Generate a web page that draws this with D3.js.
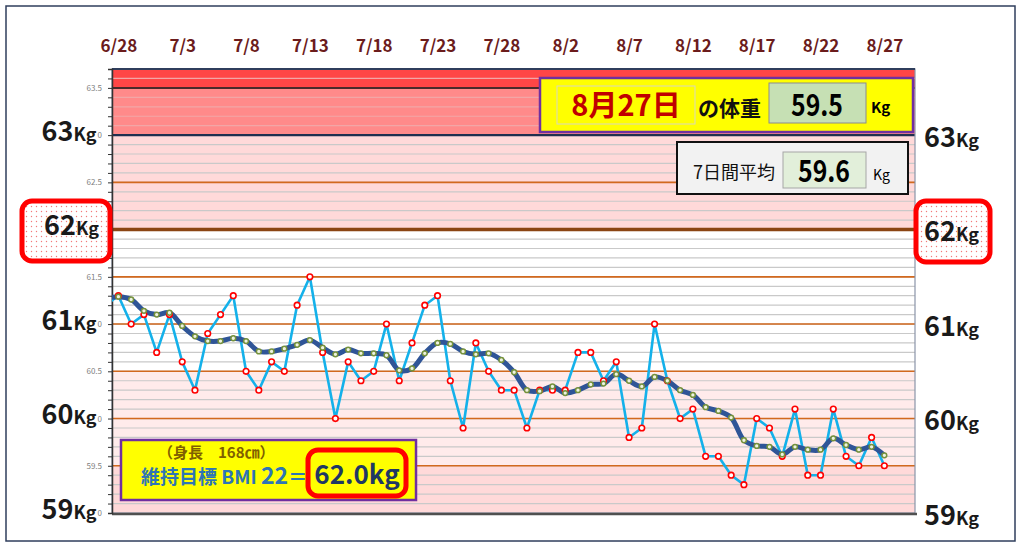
<!DOCTYPE html>
<html>
<head>
<meta charset="utf-8">
<script src="https://cdn.jsdelivr.net/npm/d3@7"></script>
<style>
    body { margin: 0; background: #ffffff; }
    #centeredBox { width: 1024px; height: 550px; }
    text { font-family: "Noto Sans CJK JP", "Noto Sans", sans-serif; }
</style>
</head>
<body>
<div id="centeredBox"></div>
<script>
// daily weight, first day (6/27) sits just left of the plot and gets clipped
var dates = ["6/27", "6/28", "6/29", "6/30", "7/1", "7/2", "7/3", "7/4", "7/5", "7/6",
    "7/7", "7/8", "7/9", "7/10", "7/11", "7/12", "7/13", "7/14", "7/15", "7/16",
    "7/17", "7/18", "7/19", "7/20", "7/21", "7/22", "7/23", "7/24", "7/25", "7/26",
    "7/27", "7/28", "7/29", "7/30", "7/31", "8/1", "8/2", "8/3", "8/4", "8/5",
    "8/6", "8/7", "8/8", "8/9", "8/10", "8/11", "8/12", "8/13", "8/14", "8/15",
    "8/16", "8/17", "8/18", "8/19", "8/20", "8/21", "8/22", "8/23", "8/24", "8/25",
    "8/26", "8/27"];

var weights = [61.2, 61.3, 61.0, 61.1, 60.7, 61.1, 60.6, 60.3, 60.9, 61.1,
    61.3, 60.5, 60.3, 60.6, 60.5, 61.2, 61.5, 60.7, 60.0, 60.6,
    60.4, 60.5, 61.0, 60.4, 60.8, 61.2, 61.3, 60.4, 59.9, 60.8,
    60.5, 60.3, 60.3, 59.9, 60.3, 60.3, 60.3, 60.7, 60.7, 60.4,
    60.6, 59.8, 59.9, 61.0, 60.4, 60.0, 60.1, 59.6, 59.6, 59.4,
    59.3, 60.0, 59.9, 59.6, 60.1, 59.4, 59.4, 60.1, 59.6, 59.5,
    59.8, 59.5];

// 7 day average line
var averages = [61.27, 61.29, 61.26, 61.14, 61.10, 61.12, 60.98, 60.87, 60.82, 60.82,
    60.85, 60.82, 60.71, 60.71, 60.74, 60.78, 60.83, 60.75, 60.68, 60.73,
    60.69, 60.69, 60.67, 60.51, 60.53, 60.69, 60.80, 60.79, 60.71, 60.68,
    60.69, 60.62, 60.49, 60.30, 60.29, 60.34, 60.27, 60.30, 60.36, 60.37,
    60.47, 60.40, 60.34, 60.44, 60.40, 60.30, 60.25, 60.12, 60.08, 60.01,
    59.77, 59.71, 59.70, 59.62, 59.70, 59.67, 59.67, 59.79, 59.72, 59.67,
    59.70, 59.61];

var dateTicks = ["6/28", "7/3", "7/8", "7/13", "7/18", "7/23", "7/28", "8/2", "8/7", "8/12", "8/17", "8/22", "8/27"];
var kgLabels = [63, 62, 61, 60, 59];
var smallLabels = [63.5, 63.0, 62.5, 61.5, 61.0, 60.5, 60.0, 59.5, 59.0];
var majorLines = [59.5, 60, 60.5, 61, 61.5, 62.5];
var targetLine = 62;

var latestDay = "8月27日";
var latestWeight = "59.5";
var weekAverage = "59.6";
var bodyHeight = "168";
var targetBmi = "22";
var targetWeight = "62.0";

window.onload = function () {

    var width = 1024;
    var height = 550;

    var svg = d3.select("#centeredBox").append("svg")
        .attr("width", width)
        .attr("height", height);

    var defs = svg.append("defs");

    // dotted fill used in the red 62Kg boxes
    var pat = defs.append("pattern")
        .attr("id", "dots")
        .attr("width", 5)
        .attr("height", 5)
        .attr("patternUnits", "userSpaceOnUse");
    pat.append("rect").attr("width", 5).attr("height", 5).attr("fill", "#ffffff");
    pat.append("circle").attr("cx", 1.5).attr("cy", 1.5).attr("r", 0.7).attr("fill", "#f27a7a");

    var plotLeft = 112, plotRight = 915, plotTop = 69, plotBottom = 513;

    defs.append("clipPath").attr("id", "plotClip")
        .append("rect")
        .attr("x", plotLeft)
        .attr("y", plotTop)
        .attr("width", plotRight - plotLeft)
        .attr("height", plotBottom - plotTop);

    // outer frame
    svg.append("rect")
        .attr("x", 6).attr("y", 6)
        .attr("width", 1009).attr("height", 535)
        .attr("fill", "#ffffff")
        .attr("stroke", "#2f3e5c")
        .attr("stroke-width", 1.5);

    // x scale (index into dates)
    var xScale = d3.scaleLinear()
        .domain([0.5, 63.4])
        .range([plotLeft, plotRight]);

    // y scale
    var yScale = d3.scaleLinear()
        .domain([59, 63.7])
        .range([plotBottom, plotTop]);

    // background bands
    var bands = [
        { from: 63.5, to: 63.7, color: "#ff4646" },
        { from: 63.0, to: 63.5, color: "#ff8a8a" },
        { from: 62.0, to: 63.0, color: "#ffd9d9" },
        { from: 60.5, to: 62.0, color: "#ffffff" },
        { from: 59.5, to: 60.5, color: "#ffebeb" },
        { from: 59.0, to: 59.5, color: "#ffd9d9" }
    ];
    svg.append("g").selectAll("rect")
        .data(bands)
        .enter().append("rect")
        .attr("x", plotLeft)
        .attr("width", plotRight - plotLeft)
        .attr("y", function (d) { return yScale(d.to); })
        .attr("height", function (d) { return yScale(d.from) - yScale(d.to); })
        .attr("fill", function (d) { return d.color; });

    // minor grid every 0.1
    var minor = d3.range(591, 637).map(function (d) { return d / 10; });
    svg.append("g").selectAll("line")
        .data(minor)
        .enter().append("line")
        .attr("x1", plotLeft).attr("x2", plotRight)
        .attr("y1", function (d) { return yScale(d); })
        .attr("y2", function (d) { return yScale(d); })
        .attr("stroke", function (d) { return d > 63 ? "#f2a6a6" : "#c9c9c9"; })
        .attr("stroke-width", 1.2);

    // orange lines every 0.5
    svg.append("g").selectAll("line")
        .data(majorLines)
        .enter().append("line")
        .attr("x1", plotLeft).attr("x2", plotRight)
        .attr("y1", function (d) { return yScale(d); })
        .attr("y2", function (d) { return yScale(d); })
        .attr("stroke", "#d2691e")
        .attr("stroke-width", 1.6);

    // target line at 62
    svg.append("line")
        .attr("x1", plotLeft).attr("x2", plotRight + 3)
        .attr("y1", yScale(targetLine)).attr("y2", yScale(targetLine))
        .attr("stroke", "#8b4513")
        .attr("stroke-width", 3.5);

    // dark borders of the red zone
    svg.append("line")
        .attr("x1", plotLeft).attr("x2", plotRight)
        .attr("y1", yScale(63.5)).attr("y2", yScale(63.5))
        .attr("stroke", "#4a2a2a").attr("stroke-width", 2);
    svg.append("line")
        .attr("x1", plotLeft).attr("x2", plotRight)
        .attr("y1", yScale(63)).attr("y2", yScale(63))
        .attr("stroke", "#1f2f4f").attr("stroke-width", 2.2);

    // plot border
    svg.append("rect")
        .attr("x", plotLeft).attr("y", plotTop)
        .attr("width", plotRight - plotLeft)
        .attr("height", plotBottom - plotTop)
        .attr("fill", "none")
        .attr("stroke", "#8a94a8")
        .attr("stroke-width", 1.2);
    svg.append("line")
        .attr("x1", plotLeft).attr("x2", plotRight)
        .attr("y1", plotTop).attr("y2", plotTop)
        .attr("stroke", "#2f3e5c").attr("stroke-width", 1.8);
    svg.append("line")
        .attr("x1", plotLeft).attr("x2", plotRight + 2)
        .attr("y1", plotBottom + 1).attr("y2", plotBottom + 1)
        .attr("stroke", "#505050").attr("stroke-width", 2.5);

    // left axis with small ticks
    svg.append("g")
        .attr("transform", "translate(" + plotLeft + ",0)")
        .call(d3.axisLeft(yScale).tickValues(minor).tickSize(4).tickFormat(""))
        .call(function (g) {
            g.select(".domain").attr("stroke", "#333333").attr("stroke-width", 1.5);
            g.selectAll(".tick line").attr("stroke", "#333333");
        });

    // small grey value labels (whole numbers are hidden behind the big
    // Kg labels, only their last digit peeks out)
    svg.append("g")
        .attr("transform", "translate(" + plotLeft + ",0)")
        .call(d3.axisLeft(yScale).tickValues(smallLabels).tickSize(0).tickPadding(10)
            .tickFormat(function (d) { return d % 1 === 0 ? "0" : d.toFixed(1); }))
        .call(function (g) {
            g.select(".domain").remove();
            g.selectAll("text")
                .attr("font-size", 8)
                .attr("fill", "#808080")
                .attr("font-family", "'Noto Sans', sans-serif");
        });

    // top date axis
    svg.append("g")
        .attr("transform", "translate(0,52)")
        .call(d3.axisTop(xScale)
            .tickValues(dateTicks.map(function (d) { return dates.indexOf(d); }))
            .tickFormat(function (i) { return dates[i]; })
            .tickSize(0).tickPadding(0))
        .call(function (g) {
            g.select(".domain").remove();
            g.selectAll("text")
                .attr("font-size", 17)
                .attr("font-weight", "bold")
                .attr("fill", "#6b1c1c")
                .attr("font-family", "'Noto Sans', sans-serif");
        });

    // raw weight line and smoothed average
    var rawLine = d3.line()
        .x(function (d, i) { return xScale(i); })
        .y(function (d) { return yScale(d); });

    var avgLine = d3.line()
        .curve(d3.curveCatmullRom.alpha(0.5))
        .x(function (d, i) { return xScale(i); })
        .y(function (d) { return yScale(d); });

    var lines = svg.append("g").attr("clip-path", "url(#plotClip)");

    lines.append("path")
        .datum(weights)
        .attr("fill", "none")
        .attr("stroke", "#14b1ea")
        .attr("stroke-width", 2.6)
        .attr("stroke-linejoin", "round")
        .attr("d", rawLine);

    lines.append("path")
        .datum(averages)
        .attr("fill", "none")
        .attr("stroke", "#2f5597")
        .attr("stroke-width", 5)
        .attr("stroke-linejoin", "round")
        .attr("d", avgLine);

    lines.selectAll(".point")
        .data(weights)
        .enter().append("circle")
        .attr("class", "point")
        .attr("cx", function (d, i) { return xScale(i); })
        .attr("cy", function (d) { return yScale(d); })
        .attr("r", 2.8)
        .attr("fill", "#ffffff")
        .attr("stroke", "#ff0000")
        .attr("stroke-width", 1.6);

    lines.selectAll(".avg")
        .data(averages)
        .enter().append("circle")
        .attr("class", "avg")
        .attr("cx", function (d, i) { return xScale(i); })
        .attr("cy", function (d) { return yScale(d); })
        .attr("r", 2.4)
        .attr("fill", "#eef3e2")
        .attr("stroke", "#76923c")
        .attr("stroke-width", 1.5);

    // big Kg labels, left and right
    function kgText(x, y, v, anchor) {
        var t = svg.append("text")
            .attr("x", x).attr("y", y)
            .attr("text-anchor", anchor)
            .attr("font-weight", "bold")
            .attr("fill", "#1a1a1a")
            .attr("font-family", "'Noto Sans', sans-serif");
        t.append("tspan").attr("font-size", 27).text(v);
        t.append("tspan").attr("font-size", 18).text("Kg");
    }

    // red rounded boxes behind 62Kg
    svg.append("rect")
        .attr("x", 22).attr("y", 201)
        .attr("width", 88).attr("height", 60)
        .attr("rx", 10)
        .attr("fill", "url(#dots)")
        .attr("stroke", "#ff0000")
        .attr("stroke-width", 5);
    svg.append("rect")
        .attr("x", 916).attr("y", 201)
        .attr("width", 74).attr("height", 61)
        .attr("rx", 10)
        .attr("fill", "url(#dots)")
        .attr("stroke", "#ff0000")
        .attr("stroke-width", 5);

    kgLabels.forEach(function (v) {
        var yl = yScale(v) - 4;
        var yr = yScale(v) + 2;
        kgText(v === 62 ? 99 : 96.5, yl + 9.5, v, "end");
        kgText(924, yr + 9.5, v, "start");
    });

    // today's weight box
    svg.append("rect")
        .attr("x", 540).attr("y", 78)
        .attr("width", 373).attr("height", 54)
        .attr("fill", "#ffff00")
        .attr("stroke", "#7030a0")
        .attr("stroke-width", 2.5);
    svg.append("rect")
        .attr("x", 557).attr("y", 86)
        .attr("width", 138).attr("height", 38)
        .attr("fill", "#ffff00")
        .attr("stroke", "#d8d8c0")
        .attr("stroke-width", 1);
    svg.append("text")
        .attr("x", 626).attr("y", 116)
        .attr("text-anchor", "middle")
        .attr("font-size", 29)
        .attr("font-weight", "bold")
        .attr("fill", "#c00000")
        .text(latestDay);
    svg.append("text")
        .attr("x", 698).attr("y", 116)
        .attr("font-size", 21)
        .attr("font-weight", "bold")
        .attr("fill", "#111111")
        .text("の体重");
    svg.append("rect")
        .attr("x", 769).attr("y", 83)
        .attr("width", 97).attr("height", 40)
        .attr("fill", "#c6e0b4")
        .attr("stroke", "#8c8c8c")
        .attr("stroke-width", 1);
    svg.append("text")
        .attr("x", 791).attr("y", 116)
        .attr("font-size", 30)
        .attr("font-weight", "bold")
        .attr("font-family", "'Liberation Sans', Arial, sans-serif")
        .attr("textLength", 52)
        .attr("lengthAdjust", "spacingAndGlyphs")
        .attr("fill", "#000000")
        .text(latestWeight);
    svg.append("text")
        .attr("x", 871).attr("y", 113)
        .attr("font-size", 15)
        .attr("font-weight", "bold")
        .attr("font-family", "'Noto Sans', sans-serif")
        .attr("fill", "#000000")
        .text("Kg");

    // 7 day average box
    svg.append("rect")
        .attr("x", 677).attr("y", 142)
        .attr("width", 231).attr("height", 52)
        .attr("fill", "#f2f2f2")
        .attr("stroke", "#111111")
        .attr("stroke-width", 2);
    svg.append("text")
        .attr("x", 693).attr("y", 179)
        .attr("font-size", 18)
        .attr("fill", "#111111")
        .text("7日間平均");
    svg.append("rect")
        .attr("x", 783).attr("y", 152)
        .attr("width", 83).attr("height", 36)
        .attr("fill", "#e2efda")
        .attr("stroke", "#a6a6a6")
        .attr("stroke-width", 1);
    svg.append("text")
        .attr("x", 798).attr("y", 182)
        .attr("font-size", 30)
        .attr("font-weight", "bold")
        .attr("font-family", "'Liberation Sans', Arial, sans-serif")
        .attr("textLength", 52)
        .attr("lengthAdjust", "spacingAndGlyphs")
        .attr("fill", "#000000")
        .text(weekAverage);
    svg.append("text")
        .attr("x", 873).attr("y", 180)
        .attr("font-size", 14)
        .attr("font-family", "'Noto Sans', sans-serif")
        .attr("fill", "#000000")
        .text("Kg");

    // BMI target box
    svg.append("rect")
        .attr("x", 121).attr("y", 440)
        .attr("width", 295).attr("height", 60)
        .attr("fill", "#ffff00")
        .attr("stroke", "#7030a0")
        .attr("stroke-width", 2.5);
    svg.append("text")
        .attr("x", 158).attr("y", 458)
        .attr("font-size", 15)
        .attr("font-weight", "bold")
        .attr("fill", "#7f6000")
        .text("（身長　" + bodyHeight + "㎝）");
    var bmi = svg.append("text")
        .attr("x", 141).attr("y", 484)
        .attr("font-weight", "bold")
        .attr("fill", "#2e75b6");
    bmi.append("tspan").attr("font-size", 19).text("維持目標 BMI ");
    bmi.append("tspan").attr("font-size", 23).text(targetBmi);
    bmi.append("tspan").attr("font-size", 19).text("＝");
    svg.append("rect")
        .attr("x", 308).attr("y", 450)
        .attr("width", 98).attr("height", 46)
        .attr("rx", 10)
        .attr("fill", "#ffff00")
        .attr("stroke", "#ff0000")
        .attr("stroke-width", 5);
    svg.append("text")
        .attr("x", 357).attr("y", 484)
        .attr("text-anchor", "middle")
        .attr("font-size", 26)
        .attr("font-weight", "bold")
        .attr("font-family", "'Noto Sans', sans-serif")
        .attr("fill", "#1f3864")
        .text(targetWeight + "kg");
};
</script>
</body>
</html>
